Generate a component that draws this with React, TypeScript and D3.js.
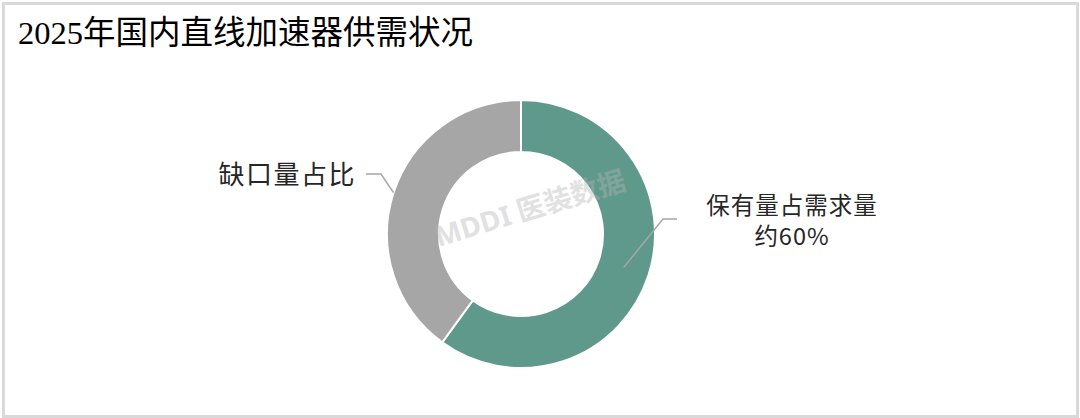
import React from "react";
import * as d3 from "d3";

const categories = ["保有量占需求量", "缺口量占比"];
const values = [60, 40];
const colors = ["#5f998b", "#a6a6a6"];
const title = "2025年国内直线加速器供需状况";
const greenLabelLines = ["保有量占需求量", "约60%"];
const grayLabel = "缺口量占比";

const W = 1080;
const H = 418;

export default function App() {
  const cx = 521;
  const cy = 234;
  const outerR = 134;
  const innerR = 82;

  const pie = d3.pie<number>().sort(null).value((d) => d)(values);
  const arc = d3.arc<d3.PieArcDatum<number>>().innerRadius(innerR).outerRadius(outerR);

  const green = pie[0];
  const gray = pie[1];
  const gC = arc.centroid(green);
  const grayMid = (gray.startAngle + gray.endAngle) / 2;
  const grayOuter: [number, number] = [Math.sin(grayMid) * outerR, -Math.cos(grayMid) * outerR];

  const greenPts: [number, number][] = [
    [cx + gC[0], cy + gC[1]],
    [663, 219],
    [677, 219],
  ];
  const grayPts: [number, number][] = [
    [cx + grayOuter[0], cy + grayOuter[1]],
    [381, 174],
    [366, 174],
  ];
  const line = d3.line();

  return (
    <svg
      width={W}
      height={H}
      style={{ position: "absolute", left: 0, top: 0, background: "#fff" }}
    >
      <rect x={0} y={0} width={W} height={H} fill="#fff" />
      <rect x={3.5} y={3.5} width={W - 6} height={H - 5} fill="none" stroke="#d9d9d9" strokeWidth={3} />
      <text
        x={18}
        y={44}
        fontFamily="'Liberation Serif', 'Noto Sans CJK SC', serif"
        fontSize={32.5}
        fill="#000"
      >
        {title}
      </text>
      <g transform={`translate(${cx},${cy})`}>
        {pie.map((p, i) => (
          <path key={categories[i]} d={arc(p) || ""} fill={colors[i]} stroke="#fff" strokeWidth={2} />
        ))}
      </g>
      <text
        x={533}
        y={218}
        textAnchor="middle"
        transform="rotate(-17 533 218)"
        fontFamily="'Noto Sans', 'Noto Sans CJK SC', sans-serif"
        fontWeight="bold"
        fontSize={28}
        fill="#b5b5b5"
        opacity={0.4}
      >
        MDDI 医装数据
      </text>
      <path d={line(greenPts) || ""} fill="none" stroke="#a6a6a6" strokeWidth={1.5} />
      <path d={line(grayPts) || ""} fill="none" stroke="#a6a6a6" strokeWidth={1.5} />
      <text
        x={356}
        y={184}
        textAnchor="end"
        fontFamily="'Noto Sans CJK SC', sans-serif"
        fontSize={26}
        letterSpacing={1.5}
        fill="#262626"
      >
        {grayLabel}
      </text>
      {greenLabelLines.map((t, i) => (
        <text
          key={t}
          x={792}
          y={214 + i * 31}
          textAnchor="middle"
          fontFamily="'Noto Sans CJK SC', sans-serif"
          fontSize={23.5}
          letterSpacing={1}
          fill="#262626"
        >
          {t}
        </text>
      ))}
    </svg>
  );
}
